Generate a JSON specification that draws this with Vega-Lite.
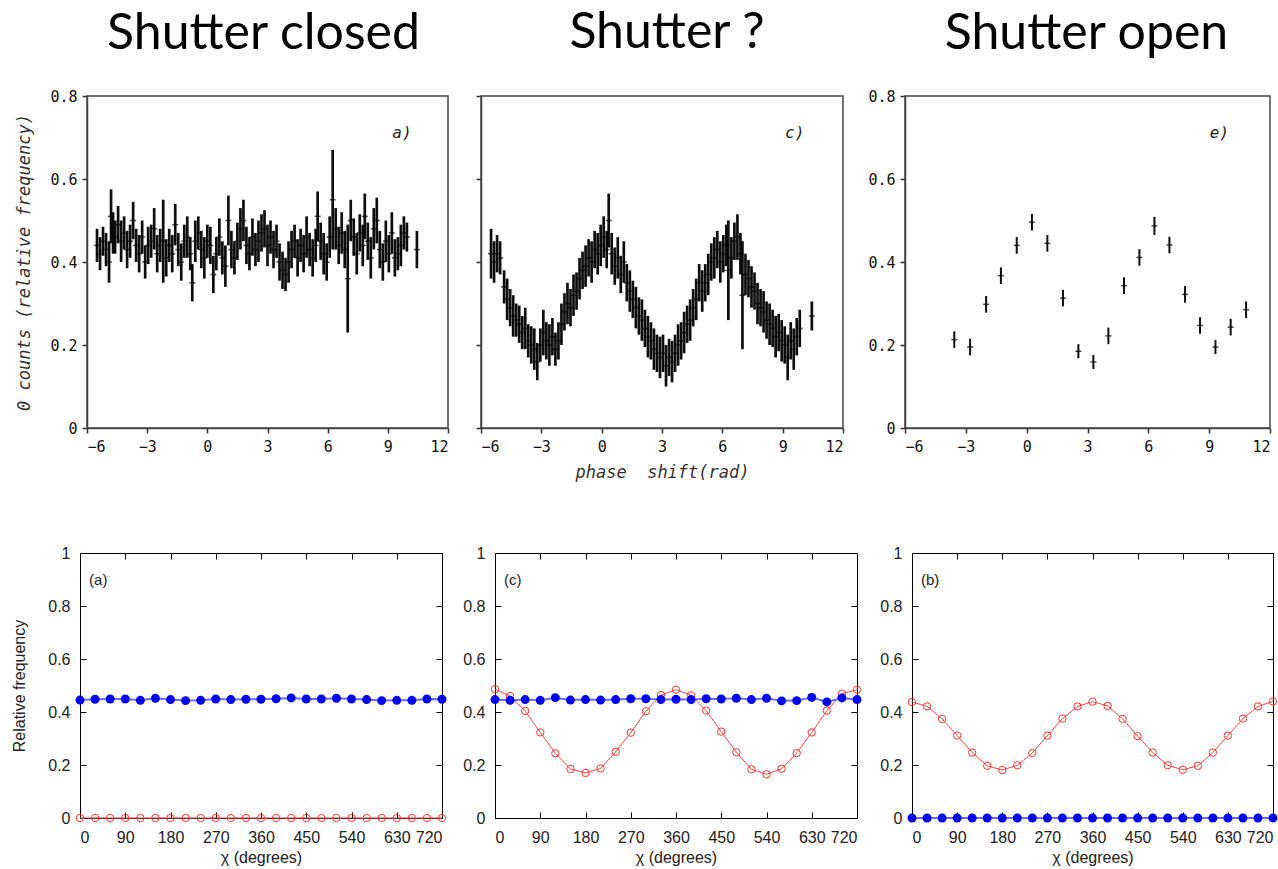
{
"$schema": "https://vega.github.io/schema/vega-lite/v6.json",
"padding": 0,
"background": "white",
"spacing": 0,
"bounds": "flush",
"config": {"view": {"stroke": null}},
"vconcat": [
{"width": 1, "height": 96, "data": {"values": [{}]}, "mark": {"type": "point", "opacity": 0, "size": 0, "strokeWidth": 0}},
{"hconcat": [
{"width": 87, "height": 332, "data": {"values": [{}]}, "mark": {"type": "point", "opacity": 0, "size": 0, "strokeWidth": 0}},
{"width": 361, "height": 332,
 "view": {"stroke": "#444", "strokeWidth": 1.5},
 "title": {"text": "Shutter closed", "font": "Lato", "fontSize": 50, "fontWeight": "normal", "color": "#000", "anchor": "middle", "frame": "group", "baseline": "alphabetic", "offset": -10, "dx": -4},
 "data": {"values": [
{"x":-5.5,"y":0.44,"e":0.04},{"x":-5.35,"y":0.42,"e":0.04},{"x":-5.2,"y":0.45,"e":0.035},{"x":-5.05,"y":0.43,"e":0.04},{"x":-4.9,"y":0.4,"e":0.05},{"x":-4.8,"y":0.51,"e":0.065},{"x":-4.7,"y":0.47,"e":0.05},{"x":-4.6,"y":0.46,"e":0.04},{"x":-4.45,"y":0.49,"e":0.045},{"x":-4.3,"y":0.45,"e":0.05},{"x":-4.15,"y":0.47,"e":0.04},{"x":-4.0,"y":0.43,"e":0.045},{"x":-3.85,"y":0.45,"e":0.04},{"x":-3.7,"y":0.5,"e":0.045},{"x":-3.55,"y":0.44,"e":0.04},{"x":-3.4,"y":0.42,"e":0.045},{"x":-3.25,"y":0.46,"e":0.04},{"x":-3.1,"y":0.4,"e":0.04},{"x":-2.95,"y":0.44,"e":0.045},{"x":-2.8,"y":0.45,"e":0.04},{"x":-2.65,"y":0.48,"e":0.05},{"x":-2.5,"y":0.42,"e":0.045},{"x":-2.35,"y":0.44,"e":0.04},{"x":-2.2,"y":0.45,"e":0.1},{"x":-2.05,"y":0.41,"e":0.045},{"x":-1.9,"y":0.44,"e":0.04},{"x":-1.75,"y":0.42,"e":0.045},{"x":-1.6,"y":0.49,"e":0.05},{"x":-1.45,"y":0.43,"e":0.04},{"x":-1.3,"y":0.4,"e":0.045},{"x":-1.15,"y":0.45,"e":0.04},{"x":-1.0,"y":0.46,"e":0.05},{"x":-0.85,"y":0.42,"e":0.04},{"x":-0.75,"y":0.35,"e":0.045},{"x":-0.6,"y":0.45,"e":0.05},{"x":-0.45,"y":0.47,"e":0.04},{"x":-0.3,"y":0.43,"e":0.045},{"x":-0.15,"y":0.41,"e":0.05},{"x":0.0,"y":0.45,"e":0.04},{"x":0.15,"y":0.44,"e":0.045},{"x":0.3,"y":0.37,"e":0.045},{"x":0.45,"y":0.42,"e":0.04},{"x":0.6,"y":0.46,"e":0.045},{"x":0.75,"y":0.41,"e":0.04},{"x":0.9,"y":0.39,"e":0.05},{"x":1.05,"y":0.5,"e":0.06},{"x":1.2,"y":0.43,"e":0.045},{"x":1.35,"y":0.41,"e":0.04},{"x":1.5,"y":0.45,"e":0.045},{"x":1.65,"y":0.48,"e":0.05},{"x":1.8,"y":0.5,"e":0.05},{"x":1.95,"y":0.44,"e":0.045},{"x":2.1,"y":0.42,"e":0.04},{"x":2.25,"y":0.46,"e":0.045},{"x":2.4,"y":0.43,"e":0.04},{"x":2.55,"y":0.45,"e":0.05},{"x":2.7,"y":0.47,"e":0.045},{"x":2.85,"y":0.48,"e":0.045},{"x":3.0,"y":0.44,"e":0.05},{"x":3.15,"y":0.46,"e":0.04},{"x":3.3,"y":0.43,"e":0.045},{"x":3.45,"y":0.45,"e":0.04},{"x":3.6,"y":0.4,"e":0.045},{"x":3.75,"y":0.38,"e":0.045},{"x":3.9,"y":0.37,"e":0.04},{"x":4.05,"y":0.4,"e":0.05},{"x":4.2,"y":0.43,"e":0.045},{"x":4.35,"y":0.45,"e":0.04},{"x":4.5,"y":0.41,"e":0.045},{"x":4.65,"y":0.44,"e":0.04},{"x":4.8,"y":0.42,"e":0.045},{"x":4.95,"y":0.46,"e":0.05},{"x":5.1,"y":0.43,"e":0.04},{"x":5.25,"y":0.41,"e":0.045},{"x":5.4,"y":0.44,"e":0.04},{"x":5.5,"y":0.51,"e":0.06},{"x":5.65,"y":0.45,"e":0.045},{"x":5.8,"y":0.42,"e":0.05},{"x":5.95,"y":0.4,"e":0.045},{"x":6.1,"y":0.46,"e":0.05},{"x":6.25,"y":0.55,"e":0.12},{"x":6.4,"y":0.48,"e":0.05},{"x":6.55,"y":0.44,"e":0.045},{"x":6.7,"y":0.47,"e":0.05},{"x":6.85,"y":0.43,"e":0.045},{"x":7.0,"y":0.36,"e":0.13},{"x":7.15,"y":0.5,"e":0.05},{"x":7.3,"y":0.46,"e":0.045},{"x":7.45,"y":0.42,"e":0.05},{"x":7.6,"y":0.47,"e":0.045},{"x":7.75,"y":0.44,"e":0.05},{"x":7.85,"y":0.51,"e":0.055},{"x":8.0,"y":0.45,"e":0.045},{"x":8.15,"y":0.41,"e":0.05},{"x":8.3,"y":0.48,"e":0.05},{"x":8.45,"y":0.5,"e":0.055},{"x":8.6,"y":0.43,"e":0.045},{"x":8.75,"y":0.4,"e":0.045},{"x":8.9,"y":0.45,"e":0.05},{"x":9.05,"y":0.42,"e":0.045},{"x":9.2,"y":0.47,"e":0.05},{"x":9.35,"y":0.41,"e":0.045},{"x":9.5,"y":0.42,"e":0.04},{"x":9.65,"y":0.44,"e":0.05},{"x":9.8,"y":0.47,"e":0.04},{"x":9.95,"y":0.46,"e":0.035},{"x":10.45,"y":0.43,"e":0.045}
 ]},
 "layer": [
  {"mark": {"type": "errorbar", "color": "#000", "rule": {"strokeWidth": 2.7, "opacity": 0.95}},
   "encoding": {
    "x": {"field": "x", "type": "quantitative", "scale": {"domain": [-6, 12], "nice": false},
          "axis": {"values": [-6,-3,0,3,6,9,12], "format": "~g", "title": null, "grid": false, "tickSize": 5, "tickColor": "#333", "tickWidth": 1.5, "domainColor": "#444", "domainWidth": 1.5, "labelFont": "DejaVu Sans Mono", "labelFontSize": 15, "labelColor": "#111", "labelPadding": 6}},
    "y": {"field": "y", "type": "quantitative", "scale": {"domain": [0, 0.8], "nice": false},
          "axis": {"values": [0,0.2,0.4,0.6,0.8], "format": "~g", "title": "0 counts (relative frequency)", "grid": false, "tickSize": 5, "tickColor": "#333", "tickWidth": 1.5, "domainColor": "#444", "domainWidth": 1.5, "labelFont": "DejaVu Sans Mono", "labelFontSize": 15, "labelColor": "#111", "labelPadding": 5, "titleFont": "DejaVu Sans Mono", "titleFontSize": 17, "titleFontStyle": "italic", "titleFontWeight": "normal", "titleColor": "#333", "titlePadding": 16}},
    "yError": {"field": "e"}}},
  {"mark": {"type": "tick", "orient": "horizontal", "color": "#000", "size": 6, "thickness": 1.5},
   "encoding": {"x": {"field": "x", "type": "quantitative"}, "y": {"field": "y", "type": "quantitative"}}},
  {"data": {"values": [{}]},
   "mark": {"type": "text", "text": "a)", "font": "DejaVu Sans Mono", "fontSize": 16, "fontStyle": "italic", "color": "#222"},
   "encoding": {"x": {"datum": 9.7, "type": "quantitative"}, "y": {"datum": 0.71, "type": "quantitative"}}}
 ]},
{"width": 33, "height": 332, "data": {"values": [{}]}, "mark": {"type": "point", "opacity": 0, "size": 0, "strokeWidth": 0}},
{"width": 362, "height": 332,
 "view": {"stroke": "#444", "strokeWidth": 1.5},
 "title": {"text": "Shutter ?", "font": "Lato", "fontSize": 50, "fontWeight": "normal", "color": "#000", "anchor": "middle", "frame": "group", "baseline": "alphabetic", "offset": -3, "dx": 5},
 "data": {"values": [
{"x":-5.5,"y":0.42,"e":0.06},{"x":-5.35,"y":0.4,"e":0.05},{"x":-5.2,"y":0.42,"e":0.045},{"x":-5.05,"y":0.41,"e":0.04},{"x":-4.85,"y":0.34,"e":0.04},{"x":-4.7,"y":0.31,"e":0.05},{"x":-4.55,"y":0.29,"e":0.045},{"x":-4.4,"y":0.27,"e":0.05},{"x":-4.25,"y":0.26,"e":0.04},{"x":-4.1,"y":0.25,"e":0.045},{"x":-3.95,"y":0.23,"e":0.04},{"x":-3.8,"y":0.24,"e":0.05},{"x":-3.65,"y":0.21,"e":0.04},{"x":-3.5,"y":0.2,"e":0.045},{"x":-3.35,"y":0.19,"e":0.05},{"x":-3.2,"y":0.16,"e":0.045},{"x":-3.05,"y":0.2,"e":0.04},{"x":-2.9,"y":0.23,"e":0.055},{"x":-2.75,"y":0.21,"e":0.045},{"x":-2.6,"y":0.2,"e":0.05},{"x":-2.45,"y":0.22,"e":0.045},{"x":-2.3,"y":0.19,"e":0.04},{"x":-2.15,"y":0.21,"e":0.045},{"x":-2.0,"y":0.25,"e":0.05},{"x":-1.85,"y":0.28,"e":0.045},{"x":-1.7,"y":0.3,"e":0.05},{"x":-1.55,"y":0.29,"e":0.045},{"x":-1.4,"y":0.32,"e":0.05},{"x":-1.25,"y":0.33,"e":0.045},{"x":-1.1,"y":0.36,"e":0.05},{"x":-0.95,"y":0.38,"e":0.045},{"x":-0.8,"y":0.39,"e":0.05},{"x":-0.65,"y":0.41,"e":0.045},{"x":-0.5,"y":0.4,"e":0.05},{"x":-0.35,"y":0.43,"e":0.045},{"x":-0.2,"y":0.42,"e":0.05},{"x":-0.05,"y":0.44,"e":0.05},{"x":0.1,"y":0.46,"e":0.05},{"x":0.25,"y":0.43,"e":0.045},{"x":0.35,"y":0.5,"e":0.065},{"x":0.5,"y":0.42,"e":0.05},{"x":0.65,"y":0.39,"e":0.045},{"x":0.8,"y":0.41,"e":0.05},{"x":0.95,"y":0.37,"e":0.045},{"x":1.1,"y":0.4,"e":0.05},{"x":1.25,"y":0.35,"e":0.045},{"x":1.4,"y":0.33,"e":0.05},{"x":1.55,"y":0.31,"e":0.045},{"x":1.7,"y":0.29,"e":0.05},{"x":1.85,"y":0.27,"e":0.045},{"x":2.0,"y":0.26,"e":0.05},{"x":2.15,"y":0.24,"e":0.045},{"x":2.3,"y":0.22,"e":0.05},{"x":2.45,"y":0.21,"e":0.045},{"x":2.6,"y":0.19,"e":0.05},{"x":2.75,"y":0.18,"e":0.045},{"x":2.9,"y":0.17,"e":0.05},{"x":3.05,"y":0.18,"e":0.045},{"x":3.2,"y":0.15,"e":0.05},{"x":3.35,"y":0.17,"e":0.045},{"x":3.5,"y":0.16,"e":0.05},{"x":3.65,"y":0.18,"e":0.045},{"x":3.8,"y":0.2,"e":0.05},{"x":3.95,"y":0.21,"e":0.045},{"x":4.1,"y":0.23,"e":0.05},{"x":4.25,"y":0.25,"e":0.045},{"x":4.4,"y":0.26,"e":0.05},{"x":4.55,"y":0.29,"e":0.045},{"x":4.7,"y":0.31,"e":0.05},{"x":4.85,"y":0.35,"e":0.045},{"x":5.0,"y":0.33,"e":0.05},{"x":5.15,"y":0.35,"e":0.045},{"x":5.3,"y":0.37,"e":0.05},{"x":5.45,"y":0.4,"e":0.045},{"x":5.6,"y":0.41,"e":0.05},{"x":5.75,"y":0.43,"e":0.045},{"x":5.9,"y":0.4,"e":0.05},{"x":6.05,"y":0.42,"e":0.045},{"x":6.2,"y":0.44,"e":0.05},{"x":6.3,"y":0.38,"e":0.12},{"x":6.45,"y":0.41,"e":0.05},{"x":6.6,"y":0.45,"e":0.045},{"x":6.75,"y":0.46,"e":0.055},{"x":6.9,"y":0.42,"e":0.05},{"x":7.0,"y":0.32,"e":0.13},{"x":7.15,"y":0.37,"e":0.05},{"x":7.3,"y":0.36,"e":0.045},{"x":7.45,"y":0.34,"e":0.05},{"x":7.6,"y":0.33,"e":0.045},{"x":7.75,"y":0.3,"e":0.05},{"x":7.9,"y":0.29,"e":0.045},{"x":8.05,"y":0.28,"e":0.05},{"x":8.2,"y":0.26,"e":0.045},{"x":8.35,"y":0.25,"e":0.05},{"x":8.5,"y":0.24,"e":0.045},{"x":8.65,"y":0.22,"e":0.05},{"x":8.8,"y":0.23,"e":0.045},{"x":8.95,"y":0.21,"e":0.05},{"x":9.1,"y":0.2,"e":0.045},{"x":9.25,"y":0.17,"e":0.055},{"x":9.4,"y":0.21,"e":0.045},{"x":9.55,"y":0.19,"e":0.05},{"x":9.7,"y":0.22,"e":0.045},{"x":9.85,"y":0.24,"e":0.045},{"x":10.45,"y":0.27,"e":0.035}
 ]},
 "layer": [
  {"mark": {"type": "errorbar", "color": "#000", "rule": {"strokeWidth": 2.7, "opacity": 0.95}},
   "encoding": {
    "x": {"field": "x", "type": "quantitative", "scale": {"domain": [-6, 12], "nice": false},
          "axis": {"values": [-6,-3,0,3,6,9,12], "format": "~g", "title": "phase\u00a0 shift(rad)", "grid": false, "tickSize": 5, "tickColor": "#333", "tickWidth": 1.5, "domainColor": "#444", "domainWidth": 1.5, "labelFont": "DejaVu Sans Mono", "labelFontSize": 15, "labelColor": "#111", "labelPadding": 6, "titleFont": "DejaVu Sans Mono", "titleFontSize": 17, "titleFontStyle": "italic", "titleFontWeight": "normal", "titleColor": "#333", "titlePadding": 10}},
    "y": {"field": "y", "type": "quantitative", "scale": {"domain": [0, 0.8], "nice": false},
          "axis": {"values": [0,0.2,0.4,0.6,0.8], "labels": false, "title": null, "grid": false, "tickSize": 5, "tickColor": "#333", "tickWidth": 1.5, "domainColor": "#444", "domainWidth": 1.5}},
    "yError": {"field": "e"}}},
  {"mark": {"type": "tick", "orient": "horizontal", "color": "#000", "size": 6, "thickness": 1.5},
   "encoding": {"x": {"field": "x", "type": "quantitative"}, "y": {"field": "y", "type": "quantitative"}}},
  {"data": {"values": [{}]},
   "mark": {"type": "text", "text": "c)", "font": "DejaVu Sans Mono", "fontSize": 16, "fontStyle": "italic", "color": "#222"},
   "encoding": {"x": {"datum": 9.6, "type": "quantitative"}, "y": {"datum": 0.71, "type": "quantitative"}}}
 ]},
{"width": 62, "height": 332, "data": {"values": [{}]}, "mark": {"type": "point", "opacity": 0, "size": 0, "strokeWidth": 0}},
{"width": 365, "height": 332,
 "view": {"stroke": "#444", "strokeWidth": 1.5},
 "title": {"text": "Shutter open", "font": "Lato", "fontSize": 50, "fontWeight": "normal", "color": "#000", "anchor": "middle", "frame": "group", "baseline": "alphabetic", "offset": -10, "dx": -1},
 "data": {"values": [
{"x":-3.57,"y":0.213,"e":0.02},{"x":-2.79,"y":0.195,"e":0.02},{"x":-2.0,"y":0.298,"e":0.02},{"x":-1.27,"y":0.367,"e":0.02},{"x":-0.49,"y":0.44,"e":0.02},{"x":0.26,"y":0.496,"e":0.02},{"x":1.02,"y":0.445,"e":0.02},{"x":1.79,"y":0.313,"e":0.02},{"x":2.55,"y":0.185,"e":0.017},{"x":3.29,"y":0.159,"e":0.017},{"x":4.03,"y":0.222,"e":0.02},{"x":4.8,"y":0.343,"e":0.02},{"x":5.56,"y":0.411,"e":0.02},{"x":6.3,"y":0.487,"e":0.022},{"x":7.04,"y":0.441,"e":0.02},{"x":7.81,"y":0.322,"e":0.02},{"x":8.55,"y":0.247,"e":0.02},{"x":9.31,"y":0.195,"e":0.017},{"x":10.06,"y":0.243,"e":0.02},{"x":10.82,"y":0.285,"e":0.02}
 ]},
 "layer": [
  {"mark": {"type": "errorbar", "color": "#000", "rule": {"strokeWidth": 2, "opacity": 0.95}},
   "encoding": {
    "x": {"field": "x", "type": "quantitative", "scale": {"domain": [-6, 12], "nice": false},
          "axis": {"values": [-6,-3,0,3,6,9,12], "format": "~g", "title": null, "grid": false, "tickSize": 5, "tickColor": "#333", "tickWidth": 1.5, "domainColor": "#444", "domainWidth": 1.5, "labelFont": "DejaVu Sans Mono", "labelFontSize": 15, "labelColor": "#111", "labelPadding": 6}},
    "y": {"field": "y", "type": "quantitative", "scale": {"domain": [0, 0.8], "nice": false},
          "axis": {"values": [0,0.2,0.4,0.6,0.8], "format": "~g", "title": null, "grid": false, "tickSize": 5, "tickColor": "#333", "tickWidth": 1.5, "domainColor": "#444", "domainWidth": 1.5, "labelFont": "DejaVu Sans Mono", "labelFontSize": 15, "labelColor": "#111", "labelPadding": 5}},
    "yError": {"field": "e"}}},
  {"mark": {"type": "tick", "orient": "horizontal", "color": "#000", "size": 6, "thickness": 1.5},
   "encoding": {"x": {"field": "x", "type": "quantitative"}, "y": {"field": "y", "type": "quantitative"}}},
  {"data": {"values": [{}]},
   "mark": {"type": "text", "text": "e)", "font": "DejaVu Sans Mono", "fontSize": 16, "fontStyle": "italic", "color": "#222"},
   "encoding": {"x": {"datum": 9.5, "type": "quantitative"}, "y": {"datum": 0.71, "type": "quantitative"}}}
 ]}
], "spacing": 0, "bounds": "flush"},
{"width": 1, "height": 457, "data": {"values": [{}]}, "mark": {"type": "point", "opacity": 0, "size": 0, "strokeWidth": 0}},
{"hconcat": [
{"width": 80, "height": 265, "data": {"values": [{}]}, "mark": {"type": "point", "opacity": 0, "size": 0, "strokeWidth": 0}},
{"width": 362, "height": 265,
 "view": {"stroke": "#000", "strokeWidth": 1},
 "data": {"values": [
{"chi":0,"f1":0.445,"f2":0},{"chi":30,"f1":0.448,"f2":0},{"chi":60,"f1":0.449,"f2":0},{"chi":90,"f1":0.449,"f2":0},{"chi":120,"f1":0.444,"f2":0},{"chi":150,"f1":0.452,"f2":0},{"chi":180,"f1":0.447,"f2":0},{"chi":210,"f1":0.443,"f2":0},{"chi":240,"f1":0.444,"f2":0},{"chi":270,"f1":0.449,"f2":0},{"chi":300,"f1":0.447,"f2":0},{"chi":330,"f1":0.448,"f2":0},{"chi":360,"f1":0.448,"f2":0},{"chi":390,"f1":0.45,"f2":0},{"chi":420,"f1":0.453,"f2":0},{"chi":450,"f1":0.449,"f2":0},{"chi":480,"f1":0.449,"f2":0},{"chi":510,"f1":0.452,"f2":0},{"chi":540,"f1":0.449,"f2":0},{"chi":570,"f1":0.447,"f2":0},{"chi":600,"f1":0.443,"f2":0},{"chi":630,"f1":0.444,"f2":0},{"chi":660,"f1":0.444,"f2":0},{"chi":690,"f1":0.449,"f2":0},{"chi":720,"f1":0.448,"f2":0}
 ]},
 "resolve": {"axis": {"x": "independent", "y": "independent"}},
 "layer": [
  {"mark": {"type": "line", "color": "#ff4444", "strokeWidth": 1},
   "encoding": {
    "x": {"field": "chi", "type": "quantitative", "scale": {"domain": [0, 720], "nice": false},
          "axis": {"values": [0,90,180,270,360,450,540,630,720], "title": "χ (degrees)", "grid": false, "domain": false, "tickSize": -6, "tickColor": "#000", "labelFont": "Liberation Sans", "labelFontSize": 16, "labelColor": "#222", "labelPadding": 17, "titleFont": "Liberation Sans", "titleFontSize": 16, "titleFontWeight": "normal", "titleColor": "#222", "titlePadding": 4}},
    "y": {"field": "f2", "type": "quantitative", "scale": {"domain": [0, 1], "nice": false},
          "axis": {"values": [0,0.2,0.4,0.6,0.8,1], "format": "~g", "title": "Relative frequency", "grid": false, "domain": false, "tickSize": -6, "tickColor": "#000", "labelFont": "Liberation Sans", "labelFontSize": 16, "labelColor": "#222", "labelPadding": 16, "titleFont": "Liberation Sans", "titleFontSize": 16, "titleFontWeight": "normal", "titleColor": "#222", "titlePadding": 20}}}},
  {"mark": {"type": "point", "shape": "circle", "filled": false, "color": "#ff3333", "size": 55, "strokeWidth": 1, "opacity": 1},
   "encoding": {
    "x": {"field": "chi", "type": "quantitative", "axis": {"orient": "top", "values": [0,90,180,270,360,450,540,630,720], "labels": false, "title": null, "grid": false, "domain": false, "tickSize": -6, "tickColor": "#000"}},
    "y": {"field": "f2", "type": "quantitative", "axis": {"orient": "right", "values": [0,0.2,0.4,0.6,0.8,1], "labels": false, "title": null, "grid": false, "domain": false, "tickSize": -6, "tickColor": "#000"}}}},
  {"mark": {"type": "line", "color": "#6a6aff", "strokeWidth": 2},
   "encoding": {"x": {"field": "chi", "type": "quantitative", "axis": null}, "y": {"field": "f1", "type": "quantitative", "axis": null}}},
  {"mark": {"type": "point", "shape": "circle", "filled": true, "color": "#0000ee", "size": 80, "opacity": 1},
   "encoding": {"x": {"field": "chi", "type": "quantitative", "axis": null}, "y": {"field": "f1", "type": "quantitative", "axis": null}}},
  {"data": {"values": [{}]},
   "mark": {"type": "text", "text": "(a)", "align": "left", "baseline": "middle", "font": "Liberation Sans", "fontSize": 15, "color": "#222"},
   "encoding": {"x": {"datum": 18, "type": "quantitative", "axis": null}, "y": {"datum": 0.9, "type": "quantitative", "axis": null}}}
 ]},
{"width": 53, "height": 265, "data": {"values": [{}]}, "mark": {"type": "point", "opacity": 0, "size": 0, "strokeWidth": 0}},
{"width": 362, "height": 265,
 "view": {"stroke": "#000", "strokeWidth": 1},
 "data": {"values": [
{"chi":0,"f1":0.447,"f2":0.486},{"chi":30,"f1":0.444,"f2":0.46},{"chi":60,"f1":0.447,"f2":0.404},{"chi":90,"f1":0.444,"f2":0.323},{"chi":120,"f1":0.454,"f2":0.244},{"chi":150,"f1":0.445,"f2":0.185},{"chi":180,"f1":0.447,"f2":0.17},{"chi":210,"f1":0.445,"f2":0.187},{"chi":240,"f1":0.447,"f2":0.25},{"chi":270,"f1":0.45,"f2":0.322},{"chi":300,"f1":0.45,"f2":0.403},{"chi":330,"f1":0.447,"f2":0.464},{"chi":360,"f1":0.448,"f2":0.484},{"chi":390,"f1":0.447,"f2":0.463},{"chi":420,"f1":0.45,"f2":0.405},{"chi":450,"f1":0.449,"f2":0.326},{"chi":480,"f1":0.452,"f2":0.248},{"chi":510,"f1":0.447,"f2":0.184},{"chi":540,"f1":0.452,"f2":0.165},{"chi":570,"f1":0.442,"f2":0.186},{"chi":600,"f1":0.443,"f2":0.245},{"chi":630,"f1":0.455,"f2":0.323},{"chi":660,"f1":0.438,"f2":0.405},{"chi":690,"f1":0.453,"f2":0.469},{"chi":720,"f1":0.447,"f2":0.484}
 ]},
 "resolve": {"axis": {"x": "independent", "y": "independent"}},
 "layer": [
  {"mark": {"type": "line", "color": "#ff4444", "strokeWidth": 1},
   "encoding": {
    "x": {"field": "chi", "type": "quantitative", "scale": {"domain": [0, 720], "nice": false},
          "axis": {"values": [0,90,180,270,360,450,540,630,720], "title": "χ (degrees)", "grid": false, "domain": false, "tickSize": -6, "tickColor": "#000", "labelFont": "Liberation Sans", "labelFontSize": 16, "labelColor": "#222", "labelPadding": 17, "titleFont": "Liberation Sans", "titleFontSize": 16, "titleFontWeight": "normal", "titleColor": "#222", "titlePadding": 4}},
    "y": {"field": "f2", "type": "quantitative", "scale": {"domain": [0, 1], "nice": false},
          "axis": {"values": [0,0.2,0.4,0.6,0.8,1], "format": "~g", "title": null, "grid": false, "domain": false, "tickSize": -6, "tickColor": "#000", "labelFont": "Liberation Sans", "labelFontSize": 16, "labelColor": "#222", "labelPadding": 16}}}},
  {"mark": {"type": "point", "shape": "circle", "filled": false, "color": "#ff3333", "size": 55, "strokeWidth": 1, "opacity": 1},
   "encoding": {
    "x": {"field": "chi", "type": "quantitative", "axis": {"orient": "top", "values": [0,90,180,270,360,450,540,630,720], "labels": false, "title": null, "grid": false, "domain": false, "tickSize": -6, "tickColor": "#000"}},
    "y": {"field": "f2", "type": "quantitative", "axis": {"orient": "right", "values": [0,0.2,0.4,0.6,0.8,1], "labels": false, "title": null, "grid": false, "domain": false, "tickSize": -6, "tickColor": "#000"}}}},
  {"mark": {"type": "line", "color": "#6a6aff", "strokeWidth": 2},
   "encoding": {"x": {"field": "chi", "type": "quantitative", "axis": null}, "y": {"field": "f1", "type": "quantitative", "axis": null}}},
  {"mark": {"type": "point", "shape": "circle", "filled": true, "color": "#0000ee", "size": 80, "opacity": 1},
   "encoding": {"x": {"field": "chi", "type": "quantitative", "axis": null}, "y": {"field": "f1", "type": "quantitative", "axis": null}}},
  {"data": {"values": [{}]},
   "mark": {"type": "text", "text": "(c)", "align": "left", "baseline": "middle", "font": "Liberation Sans", "fontSize": 15, "color": "#222"},
   "encoding": {"x": {"datum": 18, "type": "quantitative", "axis": null}, "y": {"datum": 0.9, "type": "quantitative", "axis": null}}}
 ]},
{"width": 55, "height": 265, "data": {"values": [{}]}, "mark": {"type": "point", "opacity": 0, "size": 0, "strokeWidth": 0}},
{"width": 361, "height": 265,
 "view": {"stroke": "#000", "strokeWidth": 1},
 "data": {"values": [
{"chi":0,"f1":0,"f2":0.438},{"chi":30,"f1":0,"f2":0.421},{"chi":60,"f1":0,"f2":0.374},{"chi":90,"f1":0,"f2":0.311},{"chi":120,"f1":0,"f2":0.247},{"chi":150,"f1":0,"f2":0.197},{"chi":180,"f1":0,"f2":0.181},{"chi":210,"f1":0,"f2":0.199},{"chi":240,"f1":0,"f2":0.245},{"chi":270,"f1":0,"f2":0.311},{"chi":300,"f1":0,"f2":0.375},{"chi":330,"f1":0,"f2":0.421},{"chi":360,"f1":0,"f2":0.439},{"chi":390,"f1":0,"f2":0.423},{"chi":420,"f1":0,"f2":0.374},{"chi":450,"f1":0,"f2":0.309},{"chi":480,"f1":0,"f2":0.247},{"chi":510,"f1":0,"f2":0.199},{"chi":540,"f1":0,"f2":0.182},{"chi":570,"f1":0,"f2":0.197},{"chi":600,"f1":0,"f2":0.247},{"chi":630,"f1":0,"f2":0.311},{"chi":660,"f1":0,"f2":0.375},{"chi":690,"f1":0,"f2":0.421},{"chi":720,"f1":0,"f2":0.44}
 ]},
 "resolve": {"axis": {"x": "independent", "y": "independent"}},
 "layer": [
  {"mark": {"type": "line", "color": "#ff4444", "strokeWidth": 1},
   "encoding": {
    "x": {"field": "chi", "type": "quantitative", "scale": {"domain": [0, 720], "nice": false},
          "axis": {"values": [0,90,180,270,360,450,540,630,720], "title": "χ (degrees)", "grid": false, "domain": false, "tickSize": -6, "tickColor": "#000", "labelFont": "Liberation Sans", "labelFontSize": 16, "labelColor": "#222", "labelPadding": 17, "titleFont": "Liberation Sans", "titleFontSize": 16, "titleFontWeight": "normal", "titleColor": "#222", "titlePadding": 4}},
    "y": {"field": "f2", "type": "quantitative", "scale": {"domain": [0, 1], "nice": false},
          "axis": {"values": [0,0.2,0.4,0.6,0.8,1], "format": "~g", "title": null, "grid": false, "domain": false, "tickSize": -6, "tickColor": "#000", "labelFont": "Liberation Sans", "labelFontSize": 16, "labelColor": "#222", "labelPadding": 16}}}},
  {"mark": {"type": "point", "shape": "circle", "filled": false, "color": "#ff3333", "size": 55, "strokeWidth": 1, "opacity": 1},
   "encoding": {
    "x": {"field": "chi", "type": "quantitative", "axis": {"orient": "top", "values": [0,90,180,270,360,450,540,630,720], "labels": false, "title": null, "grid": false, "domain": false, "tickSize": -6, "tickColor": "#000"}},
    "y": {"field": "f2", "type": "quantitative", "axis": {"orient": "right", "values": [0,0.2,0.4,0.6,0.8,1], "labels": false, "title": null, "grid": false, "domain": false, "tickSize": -6, "tickColor": "#000"}}}},
  {"mark": {"type": "line", "color": "#6a6aff", "strokeWidth": 2},
   "encoding": {"x": {"field": "chi", "type": "quantitative", "axis": null}, "y": {"field": "f1", "type": "quantitative", "axis": null}}},
  {"mark": {"type": "point", "shape": "circle", "filled": true, "color": "#0000ee", "size": 80, "opacity": 1},
   "encoding": {"x": {"field": "chi", "type": "quantitative", "axis": null}, "y": {"field": "f1", "type": "quantitative", "axis": null}}},
  {"data": {"values": [{}]},
   "mark": {"type": "text", "text": "(b)", "align": "left", "baseline": "middle", "font": "Liberation Sans", "fontSize": 15, "color": "#222"},
   "encoding": {"x": {"datum": 18, "type": "quantitative", "axis": null}, "y": {"datum": 0.9, "type": "quantitative", "axis": null}}}
 ]}
], "spacing": 0, "bounds": "flush"}
]
}
